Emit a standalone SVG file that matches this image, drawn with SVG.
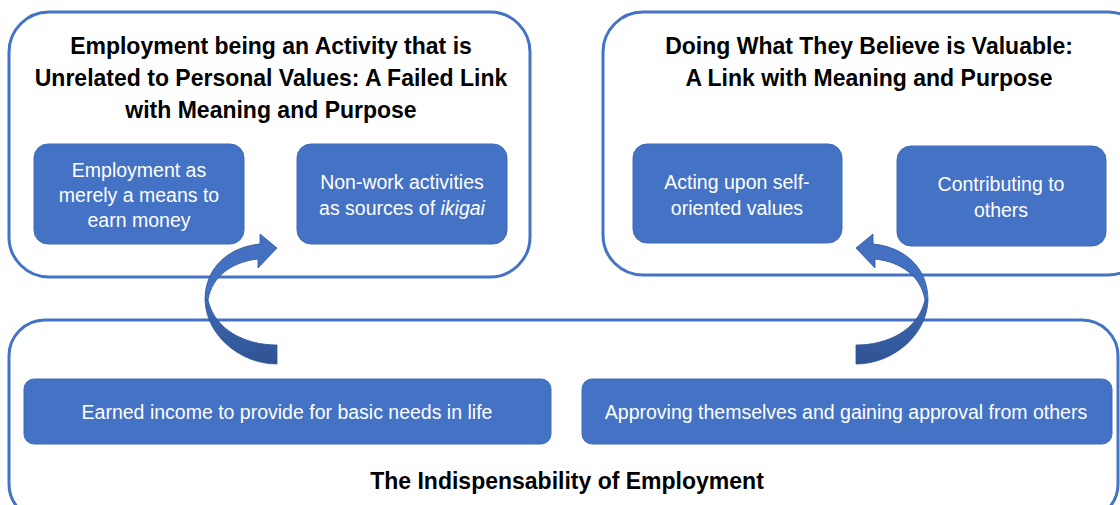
<svg xmlns="http://www.w3.org/2000/svg" width="1120" height="505" viewBox="0 0 1120 505">
<defs>
<style>
.cont{fill:#ffffff;stroke:#4472C4;stroke-width:3}
.box{fill:#4472C4;stroke:#3f6ab8;stroke-width:1}
.title{font-family:"Liberation Sans",Arial,sans-serif;font-weight:bold;font-size:23px;fill:#000;text-anchor:middle}
.bt{font-family:"Liberation Sans",Arial,sans-serif;font-size:19.5px;fill:#fff;text-anchor:middle}
.arU{fill:#4370C0;stroke:#2F5597;stroke-width:0.8}
.arL{fill:url(#gLow);stroke:#2F5597;stroke-width:0.8}
</style>
<linearGradient id="gLow" x1="0" y1="0" x2="0" y2="1">
<stop offset="0" stop-color="#3F69B5"/>
<stop offset="1" stop-color="#2E5393"/>
</linearGradient>
</defs>
<rect width="1120" height="505" fill="#ffffff"/>

<g id="container-left">
<rect class="cont" x="9" y="12" width="521" height="265" rx="40"/>
<text class="title" x="271" y="54">Employment being an Activity that is</text>
<text class="title" x="271" y="86">Unrelated to Personal Values: A Failed Link</text>
<text class="title" x="271" y="118">with Meaning and Purpose</text>
</g>
<g id="container-right">
<rect class="cont" x="603" y="12" width="545" height="263" rx="40"/>
<text class="title" x="869" y="54">Doing What They Believe is Valuable:</text>
<text class="title" x="869" y="86">A Link with Meaning and Purpose</text>
</g>
<g id="container-bottom">
<rect class="cont" x="9" y="320" width="1109" height="200" rx="36"/>
<text class="title" x="567" y="489">The Indispensability of Employment</text>
</g>

<g id="node-means">
<rect class="box" x="34" y="144" width="210" height="100" rx="14"/>
<text class="bt" x="139" y="177">Employment as</text>
<text class="bt" x="139" y="202">merely a means to</text>
<text class="bt" x="139" y="227">earn money</text>
</g>
<g id="node-nonwork">
<rect class="box" x="297" y="144" width="210" height="100" rx="14"/>
<text class="bt" x="402" y="189">Non-work activities</text>
<text class="bt" x="402" y="215">as sources of <tspan font-style="italic">ikigai</tspan></text>
</g>
<g id="node-acting">
<rect class="box" x="633" y="144" width="209" height="99" rx="14"/>
<text class="bt" x="737" y="189">Acting upon self-</text>
<text class="bt" x="737" y="215">oriented values</text>
</g>
<g id="node-contributing">
<rect class="box" x="897" y="146" width="209" height="100" rx="14"/>
<text class="bt" x="1001" y="191">Contributing to</text>
<text class="bt" x="1001" y="217">others</text>
</g>
<g id="node-income">
<rect class="box" x="24" y="379" width="527" height="65" rx="10"/>
<text class="bt" x="287" y="419">Earned income to provide for basic needs in life</text>
</g>
<g id="node-approving">
<rect class="box" x="582" y="379" width="530" height="65" rx="10"/>
<text class="bt" x="846" y="419">Approving themselves and gaining approval from others</text>
</g>

<g id="connectors">
<g id="arrow-left">
<path class="arL" d="M277,345 C245,345 215,330 208,300 L205,300 C206,335 240,364 277,364 Z"/>
<path class="arU" d="M205,300 C205,268 228,247 260,244 L260,234 L277,248 L258,268 L258,259 C232,262 212,276 208,300 Z"/>
</g>
<g id="arrow-right" transform="translate(1133,0) scale(-1,1)">
<path class="arL" d="M277,345 C245,345 215,330 208,300 L205,300 C206,335 240,364 277,364 Z"/>
<path class="arU" d="M205,300 C205,268 228,247 260,244 L260,234 L277,248 L258,268 L258,259 C232,262 212,276 208,300 Z"/>
</g>
</g>
</svg>
